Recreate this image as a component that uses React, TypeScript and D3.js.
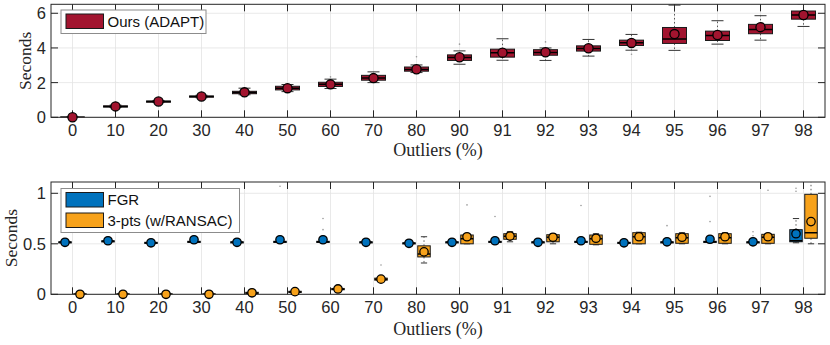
import React from 'react';
import * as d3 from 'd3';

// outlier ratio categories (x axis)
const categories = ['0', '10', '20', '30', '40', '50', '60', '70', '80', '90', '91', '92', '93', '94', '95', '96', '97', '98'];

// top panel: Ours (ADAPT), seconds
const adaptMean = [0.0, 0.63, 0.91, 1.2, 1.44, 1.68, 1.9, 2.26, 2.77, 3.46, 3.73, 3.75, 3.98, 4.29, 4.8, 4.75, 5.2, 5.9];
const adaptMedian = [0.0, 0.63, 0.91, 1.2, 1.43, 1.68, 1.9, 2.27, 2.76, 3.45, 3.72, 3.74, 3.97, 4.3, 4.51, 4.72, 5.07, 5.9];
const adaptQ1 = [0.0, 0.6, 0.88, 1.17, 1.36, 1.58, 1.78, 2.14, 2.66, 3.28, 3.47, 3.58, 3.82, 4.14, 4.26, 4.43, 4.82, 5.66];
const adaptQ3 = [0.01, 0.66, 0.94, 1.23, 1.5, 1.79, 2.02, 2.42, 2.9, 3.6, 3.93, 3.9, 4.12, 4.45, 5.18, 4.97, 5.36, 6.13];
const adaptLo = [0.0, 0.57, 0.85, 1.13, 1.3, 1.48, 1.66, 2.0, 2.58, 3.06, 3.29, 3.28, 3.53, 3.87, 3.86, 4.22, 4.45, 5.24];
const adaptHi = [0.02, 0.7, 0.97, 1.27, 1.68, 1.89, 2.2, 2.62, 3.02, 3.83, 4.53, 4.0, 4.49, 4.78, 6.47, 5.57, 5.86, 6.55];
const adaptOutliers: [number, number][] = [[6, 2.33], [8, 3.49], [9, 4.22], [11, 4.35], [13, 3.64]];

// bottom panel: FGR
const fgrMean = [0.515, 0.53, 0.51, 0.54, 0.515, 0.54, 0.54, 0.515, 0.505, 0.515, 0.53, 0.515, 0.53, 0.51, 0.52, 0.545, 0.52, 0.6];
const fgrMedian = [0.515, 0.525, 0.51, 0.52, 0.515, 0.52, 0.52, 0.515, 0.505, 0.515, 0.52, 0.515, 0.52, 0.51, 0.515, 0.52, 0.515, 0.53];
const fgrQ1 = [0.51, 0.52, 0.505, 0.515, 0.51, 0.515, 0.515, 0.51, 0.5, 0.51, 0.515, 0.51, 0.515, 0.505, 0.51, 0.515, 0.51, 0.52];
const fgrQ3 = [0.52, 0.53, 0.515, 0.525, 0.52, 0.525, 0.525, 0.52, 0.51, 0.52, 0.525, 0.52, 0.525, 0.515, 0.52, 0.525, 0.52, 0.64];
const fgrLo = [0.505, 0.515, 0.5, 0.51, 0.505, 0.51, 0.51, 0.505, 0.495, 0.505, 0.51, 0.505, 0.51, 0.5, 0.505, 0.51, 0.505, 0.51];
const fgrHi = [0.525, 0.535, 0.52, 0.53, 0.525, 0.53, 0.53, 0.525, 0.515, 0.525, 0.53, 0.525, 0.53, 0.52, 0.525, 0.53, 0.525, 0.75];
const fgrOutliers: [number, number][] = [[5, 1.07], [6, 0.75], [6, 0.64], [10, 0.77], [12, 0.88], [14, 0.68], [15, 0.97], [15, 0.72], [16, 0.62], [16, 0.58], [17, 1.05], [17, 1.02]];

// bottom panel: 3-pts (w/RANSAC)
const ransacMean = [0.0, 0.0, 0.0, 0.0, 0.015, 0.026, 0.053, 0.15, 0.42, 0.57, 0.577, 0.565, 0.555, 0.57, 0.565, 0.57, 0.57, 0.72];
const ransacMedian = [0.0, 0.0, 0.0, 0.0, 0.012, 0.024, 0.05, 0.148, 0.4, 0.55, 0.575, 0.565, 0.55, 0.57, 0.56, 0.56, 0.565, 0.61];
const ransacQ1 = [0.0, 0.0, 0.0, 0.0, 0.008, 0.02, 0.045, 0.14, 0.37, 0.5, 0.545, 0.52, 0.495, 0.5, 0.505, 0.505, 0.505, 0.555];
const ransacQ3 = [0.004, 0.004, 0.004, 0.004, 0.02, 0.03, 0.058, 0.16, 0.48, 0.587, 0.6, 0.59, 0.587, 0.61, 0.6, 0.6, 0.594, 0.99];
const ransacLo = [0.0, 0.0, 0.0, 0.0, 0.005, 0.018, 0.04, 0.13, 0.31, 0.5, 0.52, 0.5, 0.49, 0.5, 0.5, 0.5, 0.5, 0.5];
const ransacHi = [0.006, 0.006, 0.006, 0.006, 0.025, 0.034, 0.065, 0.17, 0.57, 0.6, 0.62, 0.6, 0.6, 0.615, 0.61, 0.61, 0.6, 1.2];
const ransacOutliers: [number, number][] = [[7, 0.29], [9, 0.885], [16, 1.03]];

const topTicks = [0, 2, 4, 6];
const bottomTicks = [0, 0.5, 1];

const RED = '#A2142F';
const BLUE = '#0072BD';
const ORANGE = '#F7A21B';
const AXIS = '#262626';
const GRID = '#e3e3e3';
const SANS = '"Liberation Sans", Arial, sans-serif';
const SERIF = '"Liberation Serif", "Times New Roman", serif';

const W = 830, H = 345;
const L = 51, R = 825;

const x = d3.scalePoint<string>().domain(categories).range([L, R]).padding(0.5);
const yTop = d3.scaleLinear().domain([0, 6.5]).range([117.3, 4.6]);
const yBot = d3.scaleLinear().domain([0, 1.11]).range([294.3, 182.2]);

type Series = {
  mean: number[]; median: number[]; q1: number[]; q3: number[]; lo: number[]; hi: number[];
  outliers: [number, number][]; color: string; offset: number; boxW: number; r: number;
};

// whiskers, caps, boxes (clipped to the axes)
function Boxes({ s, y }: { s: Series; y: d3.ScaleLinear<number, number> }) {
  const hw = s.boxW / 2;
  const cw = s.boxW / 4;
  return (
    <g>
      {s.outliers.map(([i, v], k) => (
        <circle key={'o' + k} cx={x(categories[i])! + s.offset} cy={y(v)} r={0.8} fill="#9a9a9a" />
      ))}
      {categories.map((c, i) => {
        const cx = x(c)! + s.offset;
        return (
          <g key={c}>
            <line x1={cx} x2={cx} y1={y(s.q3[i])} y2={y(s.hi[i])} stroke="#333" strokeWidth={0.8} strokeDasharray="1.5,2.5" />
            <line x1={cx} x2={cx} y1={y(s.q1[i])} y2={y(s.lo[i])} stroke="#333" strokeWidth={0.8} strokeDasharray="1.5,2.5" />
            <line x1={cx - cw} x2={cx + cw} y1={y(s.hi[i])} y2={y(s.hi[i])} stroke="#333" strokeWidth={1} />
            <line x1={cx - cw} x2={cx + cw} y1={y(s.lo[i])} y2={y(s.lo[i])} stroke="#333" strokeWidth={1} />
            <rect x={cx - hw} width={s.boxW} y={y(s.q3[i])} height={Math.max(1.2, y(s.q1[i]) - y(s.q3[i]))}
              fill={s.color} stroke="#1a1a1a" strokeWidth={1} />
            <line x1={cx - hw} x2={cx + hw} y1={y(s.median[i])} y2={y(s.median[i])} stroke="#000" strokeWidth={1.5} />
          </g>
        );
      })}
    </g>
  );
}

// mean markers, not clipped
function Means({ s, y }: { s: Series; y: d3.ScaleLinear<number, number> }) {
  return (
    <g>
      {categories.map((c, i) => (
        <circle key={c} cx={x(c)! + s.offset} cy={y(s.mean[i])} r={s.r} fill={s.color} stroke="#000" strokeWidth={1.3} />
      ))}
    </g>
  );
}

function Frame({ y, ticks, top, bottom, fmt, labelY, ylabelX, clip }: {
  y: d3.ScaleLinear<number, number>; ticks: number[]; top: number; bottom: number;
  fmt: (v: number) => string; labelY: number; ylabelX: number; clip: string;
}) {
  const tl = 7;
  return (
    <g>
      <clipPath id={clip}><rect x={L} y={top} width={R - L} height={bottom - top} /></clipPath>
      <rect x={L} y={top} width={R - L} height={bottom - top} fill="#fff" />
      {categories.map(c => (
        <line key={'gx' + c} x1={x(c)} x2={x(c)} y1={top} y2={bottom} stroke={GRID} strokeWidth={0.8} />
      ))}
      {ticks.map(t => (
        <line key={'gy' + t} x1={L} x2={R} y1={y(t)} y2={y(t)} stroke={GRID} strokeWidth={0.8} />
      ))}
      {categories.map(c => (
        <g key={'tx' + c}>
          <line x1={x(c)} x2={x(c)} y1={bottom} y2={bottom - tl} stroke={AXIS} />
          <line x1={x(c)} x2={x(c)} y1={top} y2={top + tl} stroke={AXIS} />
          <text x={x(c)} y={bottom + 19} textAnchor="middle" fontFamily={SANS} fontSize={16.5} fill={AXIS}>{c}</text>
        </g>
      ))}
      {ticks.map(t => (
        <g key={'ty' + t}>
          <line x1={L} x2={L + tl} y1={y(t)} y2={y(t)} stroke={AXIS} />
          <line x1={R} x2={R - tl} y1={y(t)} y2={y(t)} stroke={AXIS} />
          <text x={46} y={y(t)} dy="0.36em" textAnchor="end" fontFamily={SANS} fontSize={16.5} fill={AXIS}>{fmt(t)}</text>
        </g>
      ))}
      <text transform={`translate(${ylabelX},${(top + bottom) / 2}) rotate(-90)`} textAnchor="middle" dy="0.3em"
        fontFamily={SERIF} fontSize={17.5} fill={AXIS}>Seconds</text>
      <text x={(L + R) / 2} y={labelY} textAnchor="middle" fontFamily={SERIF} fontSize={18} fill={AXIS}>Outliers (%)</text>
    </g>
  );
}

function Border({ top, bottom }: { top: number; bottom: number }) {
  return <rect x={L} y={top} width={R - L} height={bottom - top} fill="none" stroke={AXIS} strokeWidth={1} />;
}

function Legend({ x0, y0, w, items }: { x0: number; y0: number; w: number; items: { label: string; color: string }[] }) {
  const rowH = 20.5;
  const h = items.length * rowH + 3;
  return (
    <g>
      <rect x={x0} y={y0} width={w} height={h} fill="#fff" stroke="#8c8c8c" strokeWidth={1} />
      {items.map((it, i) => (
        <g key={it.label}>
          <rect x={x0 + 5} y={y0 + 4 + i * rowH} width={37.5} height={14.5} fill={it.color} stroke="#1a1a1a" strokeWidth={1} />
          <text x={x0 + 46.5} y={y0 + 11.5 + i * rowH} dy="0.36em" fontFamily={SANS} fontSize={15} fill="#111">{it.label}</text>
        </g>
      ))}
    </g>
  );
}

export default function App() {
  const adapt: Series = {
    mean: adaptMean, median: adaptMedian, q1: adaptQ1, q3: adaptQ3, lo: adaptLo, hi: adaptHi,
    outliers: adaptOutliers, color: RED, offset: 0, boxW: 24, r: 4.6,
  };
  const fgr: Series = {
    mean: fgrMean, median: fgrMedian, q1: fgrQ1, q3: fgrQ3, lo: fgrLo, hi: fgrHi,
    outliers: fgrOutliers, color: BLUE, offset: -7.5, boxW: 12.5, r: 4.2,
  };
  const ransac: Series = {
    mean: ransacMean, median: ransacMedian, q1: ransacQ1, q3: ransacQ3, lo: ransacLo, hi: ransacHi,
    outliers: ransacOutliers, color: ORANGE, offset: 7.5, boxW: 12.5, r: 4.2,
  };
  return (
    <svg width={W} height={H} style={{ position: 'fixed', left: 0, top: 0, background: '#fff' }}>
      <Frame y={yTop} ticks={topTicks} top={4.3} bottom={117.3} fmt={d3.format('d')} labelY={156} ylabelX={26} clip="clipTop" />
      <g clipPath="url(#clipTop)"><Boxes s={adapt} y={yTop} /></g>
      <Border top={4.3} bottom={117.3} />
      <Means s={adapt} y={yTop} />
      <Legend x0={61} y0={10} w={145} items={[{ label: 'Ours (ADAPT)', color: RED }]} />

      <Frame y={yBot} ticks={bottomTicks} top={182} bottom={294.3} fmt={v => (v === 0.5 ? '0.5' : String(v))} labelY={335} ylabelX={12} clip="clipBot" />
      <g clipPath="url(#clipBot)">
        <Boxes s={fgr} y={yBot} />
        <Boxes s={ransac} y={yBot} />
      </g>
      <Border top={182} bottom={294.3} />
      <Means s={fgr} y={yBot} />
      <Means s={ransac} y={yBot} />
      <Legend x0={61} y0={188.5} w={178.5} items={[{ label: 'FGR', color: BLUE }, { label: '3-pts (w/RANSAC)', color: ORANGE }]} />
    </svg>
  );
}
